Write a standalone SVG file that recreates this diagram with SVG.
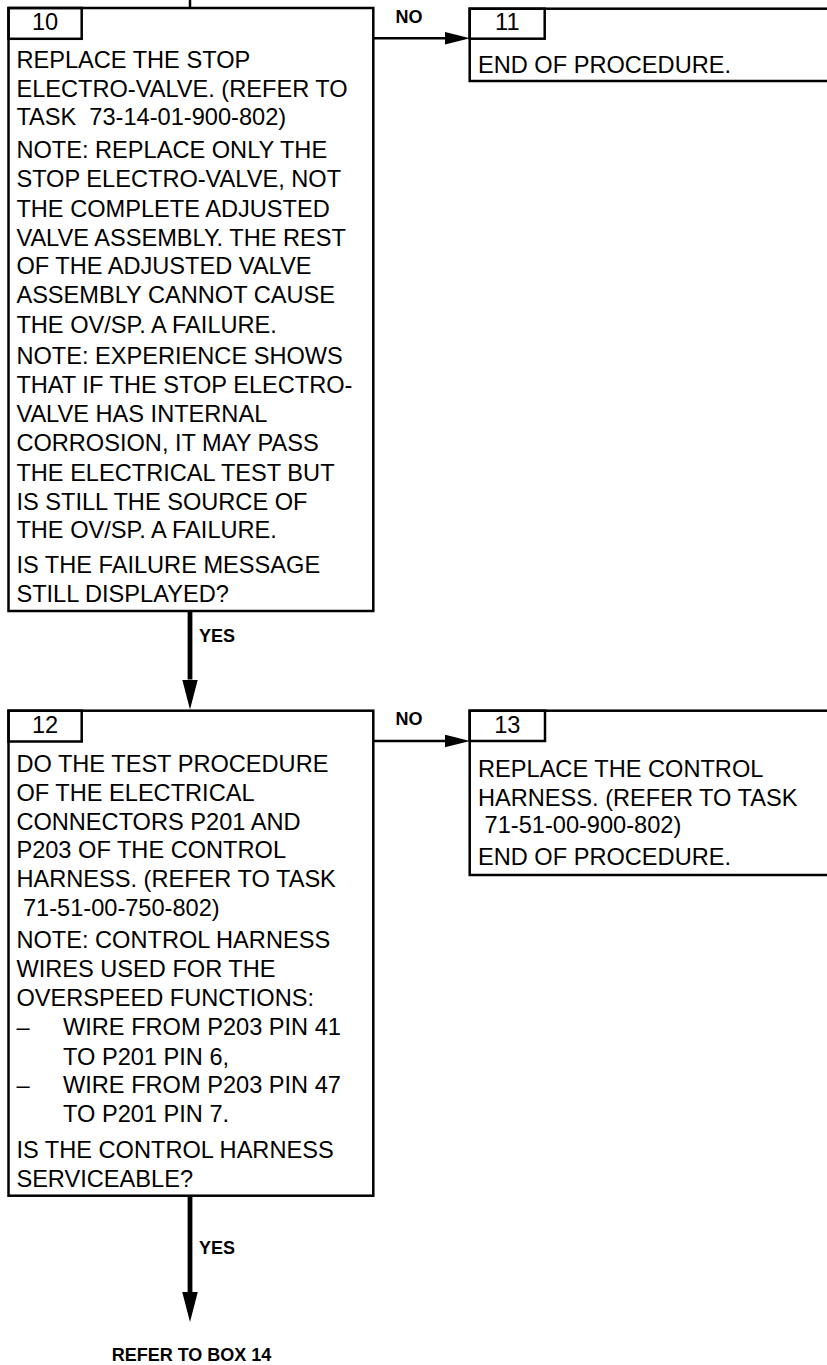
<svg xmlns="http://www.w3.org/2000/svg" width="827" height="1365" viewBox="0 0 827 1365">
<style>
.box{fill:#fff;stroke:#000;stroke-width:2.5}
.tag{fill:none;stroke:#000;stroke-width:2.5}
.t{font-family:"Liberation Sans",Arial,sans-serif;font-size:23.6px;fill:#000;white-space:pre}
.n{font-family:"Liberation Sans",Arial,sans-serif;font-size:23.6px;fill:#000;text-anchor:middle}
.lbl{font-family:"Liberation Sans",Arial,sans-serif;font-size:18px;font-weight:bold;fill:#000}
.thin{fill:none;stroke:#000;stroke-width:2.5}
.thick{fill:none;stroke:#000;stroke-width:4.8}
</style>
<defs>
<marker id="ah" markerUnits="userSpaceOnUse" markerWidth="25" markerHeight="13" refX="0" refY="6.3" orient="auto">
<path d="M0,0 L25,6.3 L0,12.6 z" fill="#000"/>
</marker>
<marker id="av" markerUnits="userSpaceOnUse" markerWidth="30" markerHeight="16" refX="0" refY="7.8" orient="auto">
<path d="M0,0 L30,7.8 L0,15.6 z" fill="#000"/>
</marker>
</defs>
<rect width="827" height="1365" fill="#fff"/>
<g id="connectors">
<line class="thin" x1="190" y1="0" x2="190" y2="8"/>
<line class="thin" x1="373.3" y1="38.3" x2="445" y2="38.3" marker-end="url(#ah)"/>
<line class="thin" x1="373.3" y1="741" x2="445" y2="741" marker-end="url(#ah)"/>
<line class="thick" x1="190" y1="611" x2="190" y2="679.5" marker-end="url(#av)"/>
<line class="thick" x1="190" y1="1195.7" x2="190" y2="1292" marker-end="url(#av)"/>
<text class="lbl" x="395.5" y="23">NO</text>
<text class="lbl" x="395.5" y="725">NO</text>
<text class="lbl" x="199" y="641.5">YES</text>
<text class="lbl" x="199" y="1254">YES</text>
<text class="lbl" x="191.5" y="1361" text-anchor="middle">REFER TO BOX 14</text>
</g>
<g id="box10">
<rect class="box" x="8.5" y="8" width="364.8" height="603"/>
<rect class="tag" x="8.5" y="8" width="73.2" height="30.8"/>
<text class="n" x="45.1" y="30">10</text>
<text class="t" x="16.4" y="68.3">REPLACE THE STOP</text>
<text class="t" x="16.4" y="96.7">ELECTRO-VALVE. (REFER TO</text>
<text class="t" x="16.4" y="124.5">TASK  73-14-01-900-802)</text>
<text class="t" x="16.4" y="158.3">NOTE: REPLACE ONLY THE</text>
<text class="t" x="16.4" y="187">STOP ELECTRO-VALVE, NOT</text>
<text class="t" x="16.4" y="216.5">THE COMPLETE ADJUSTED</text>
<text class="t" x="16.4" y="245.5">VALVE ASSEMBLY. THE REST</text>
<text class="t" x="16.4" y="274.3">OF THE ADJUSTED VALVE</text>
<text class="t" x="16.4" y="303.3">ASSEMBLY CANNOT CAUSE</text>
<text class="t" x="16.4" y="332.5">THE OV/SP. A FAILURE.</text>
<text class="t" x="16.4" y="364.3">NOTE: EXPERIENCE SHOWS</text>
<text class="t" x="16.4" y="393.3">THAT IF THE STOP ELECTRO-</text>
<text class="t" x="16.4" y="421.7">VALVE HAS INTERNAL</text>
<text class="t" x="16.4" y="451">CORROSION, IT MAY PASS</text>
<text class="t" x="16.4" y="481">THE ELECTRICAL TEST BUT</text>
<text class="t" x="16.4" y="509.5">IS STILL THE SOURCE OF</text>
<text class="t" x="16.4" y="538.3">THE OV/SP. A FAILURE.</text>
<text class="t" x="16.4" y="573.3">IS THE FAILURE MESSAGE</text>
<text class="t" x="16.4" y="601.7">STILL DISPLAYED?</text>
</g>
<g id="box11">
<rect class="box" x="469.7" y="8.7" width="380" height="72.3"/>
<rect class="tag" x="469.7" y="8.7" width="75" height="30"/>
<text class="n" x="507.3" y="30">11</text>
<text class="t" x="478" y="73">END OF PROCEDURE.</text>
</g>
<g id="box12">
<rect class="box" x="8.5" y="710.7" width="364.8" height="485"/>
<rect class="tag" x="8.5" y="710.7" width="73.2" height="30.8"/>
<text class="n" x="45.1" y="733.3">12</text>
<text class="t" x="16.4" y="772.3">DO THE TEST PROCEDURE</text>
<text class="t" x="16.4" y="801">OF THE ELECTRICAL</text>
<text class="t" x="16.4" y="829.5">CONNECTORS P201 AND</text>
<text class="t" x="16.4" y="858.3">P203 OF THE CONTROL</text>
<text class="t" x="16.4" y="887.3">HARNESS. (REFER TO TASK</text>
<text class="t" x="16.4" y="916.3"> 71-51-00-750-802)</text>
<text class="t" x="16.4" y="948.3">NOTE: CONTROL HARNESS</text>
<text class="t" x="16.4" y="977.3">WIRES USED FOR THE</text>
<text class="t" x="16.4" y="1006">OVERSPEED FUNCTIONS:</text>
<text class="t" x="16.4" y="1035">–</text>
<text class="t" x="63" y="1035">WIRE FROM P203 PIN 41</text>
<text class="t" x="63" y="1064.5">TO P201 PIN 6,</text>
<text class="t" x="16.4" y="1093.3">–</text>
<text class="t" x="63" y="1093.3">WIRE FROM P203 PIN 47</text>
<text class="t" x="63" y="1121.7">TO P201 PIN 7.</text>
<text class="t" x="16.4" y="1158.3">IS THE CONTROL HARNESS</text>
<text class="t" x="16.4" y="1186.7">SERVICEABLE?</text>
</g>
<g id="box13">
<rect class="box" x="469.7" y="710.7" width="380" height="164.3"/>
<rect class="tag" x="469.7" y="710.7" width="75.3" height="30.3"/>
<text class="n" x="507.3" y="733.3">13</text>
<text class="t" x="478" y="777.3">REPLACE THE CONTROL</text>
<text class="t" x="478" y="805.5">HARNESS. (REFER TO TASK</text>
<text class="t" x="478" y="833.3"> 71-51-00-900-802)</text>
<text class="t" x="478" y="865">END OF PROCEDURE.</text>
</g>
</svg>
